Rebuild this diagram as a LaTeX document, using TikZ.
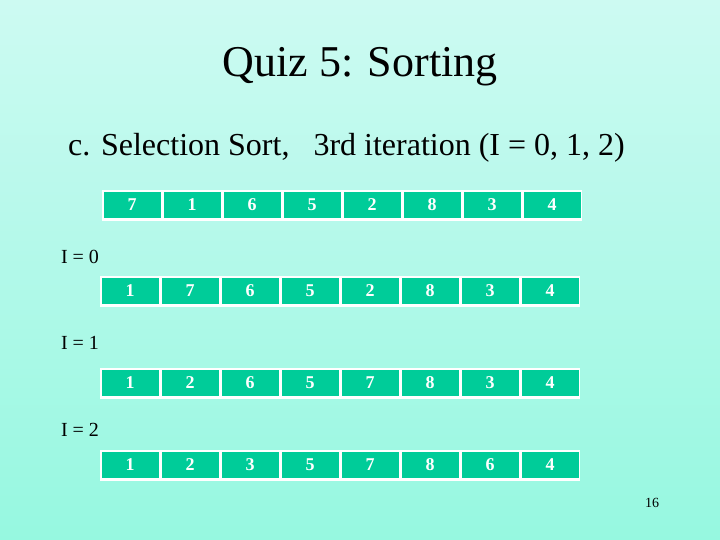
\documentclass[tikz,border=0pt]{standalone}
\usepackage{fontspec}
\setmainfont{Liberation Serif}
\usetikzlibrary{positioning}

\definecolor{celltea}{RGB}{0,204,153}
\definecolor{bgtop}{RGB}{205,250,242}
\definecolor{bgmid}{RGB}{127,255,214}
\definecolor{bgbot}{RGB}{150,248,224}

\begin{document}
\begin{tikzpicture}[x=1pt,y=-1pt]

\tikzset{inner sep=0mm,
cell/.style={fill=celltea,draw=white,line width=1.5pt,minimum width=58.5pt,minimum height=28pt,
  text=white,font=\fontsize{18}{20}\selectfont\bfseries},
rowshade/.style={draw=white,line width=2.5pt},
ilabel/.style={font=\fontsize{20}{22}\selectfont}}

% Background
\shade[top color=bgtop,middle color=bgmid,bottom color=bgbot] (0,0) rectangle (720,540);
\useasboundingbox (0,0) rectangle (720,540);

% Titles
\node (title) at (360,67) {\fontsize{44}{48}\selectfont Quiz 5: Sorting};
\node[anchor=west] (sub) at (68,148) {\fontsize{32}{36}\selectfont c. Selection Sort,\ \ \ 3rd iteration (I = 0, 1, 2)};

% Start array
\node[cell] (a0) at (132,205) {7};
\node[cell] (a1) [right=0mm of a0] {1};
\node[cell] (a2) [right=0mm of a1] {6};
\node[cell] (a3) [right=0mm of a2] {5};
\node[cell] (a4) [right=0mm of a3] {2};
\node[cell] (a5) [right=0mm of a4] {8};
\node[cell] (a6) [right=0mm of a5] {3};
\node[cell] (a7) [right=0mm of a6] {4};
\draw[rowshade] (a0.south west) -- (a7.south east);

% I = 0
\node[ilabel] (lab0) at (80,257) {I = 0};
\node[cell] (b0) at (130,291) {1};
\node[cell] (b1) [right=0mm of b0] {7};
\node[cell] (b2) [right=0mm of b1] {6};
\node[cell] (b3) [right=0mm of b2] {5};
\node[cell] (b4) [right=0mm of b3] {2};
\node[cell] (b5) [right=0mm of b4] {8};
\node[cell] (b6) [right=0mm of b5] {3};
\node[cell] (b7) [right=0mm of b6] {4};
\draw[rowshade] (b0.south west) -- (b7.south east);

% I = 1
\node[ilabel] (lab1) at (80,343) {I = 1};
\node[cell] (c0) at (130,383) {1};
\node[cell] (c1) [right=0mm of c0] {2};
\node[cell] (c2) [right=0mm of c1] {6};
\node[cell] (c3) [right=0mm of c2] {5};
\node[cell] (c4) [right=0mm of c3] {7};
\node[cell] (c5) [right=0mm of c4] {8};
\node[cell] (c6) [right=0mm of c5] {3};
\node[cell] (c7) [right=0mm of c6] {4};
\draw[rowshade] (c0.south west) -- (c7.south east);

% I = 2
\node[ilabel] (lab2) at (80,430) {I = 2};
\node[cell] (d0) at (130,465) {1};
\node[cell] (d1) [right=0mm of d0] {2};
\node[cell] (d2) [right=0mm of d1] {3};
\node[cell] (d3) [right=0mm of d2] {5};
\node[cell] (d4) [right=0mm of d3] {7};
\node[cell] (d5) [right=0mm of d4] {8};
\node[cell] (d6) [right=0mm of d5] {6};
\node[cell] (d7) [right=0mm of d6] {4};
\draw[rowshade] (d0.south west) -- (d7.south east);

% Page number
\node (page) at (652,503) {\fontsize{14}{16}\selectfont 16};

\end{tikzpicture}
\end{document}
